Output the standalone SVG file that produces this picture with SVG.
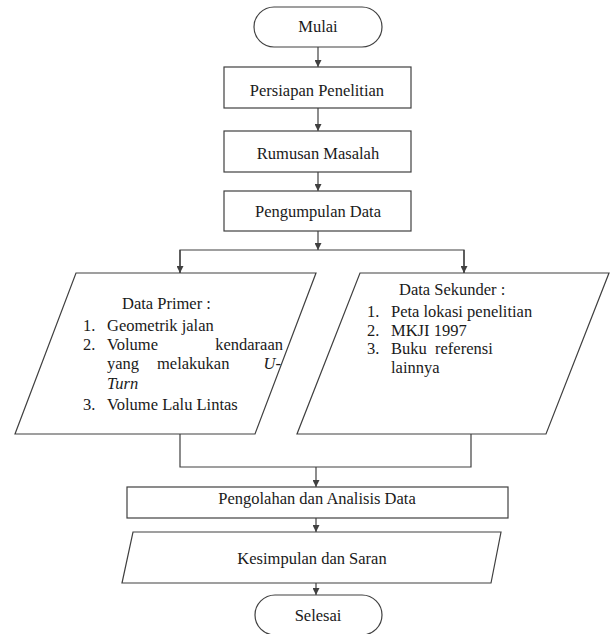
<svg xmlns="http://www.w3.org/2000/svg" width="613" height="634" viewBox="0 0 613 634">
<defs>
<marker id="arr" viewBox="0 0 8 8" refX="8" refY="4" markerWidth="7" markerHeight="7" markerUnits="userSpaceOnUse" orient="auto">
<path d="M0,0 L8,4 L0,8 z" fill="#404040"/>
</marker>
<style>
.shape{fill:#fff;stroke:#404040;stroke-width:1.2}
.t{font-family:"Liberation Serif","Times New Roman",serif;font-size:16.5px;fill:#1a1a1a}
.c{text-anchor:middle}
.e{text-anchor:end}
.i{font-style:italic}
.ln{fill:none;stroke:#404040;stroke-width:1.2}
.a{marker-end:url(#arr)}
</style>
</defs>
<rect width="613" height="634" fill="#fff"/>

<g id="connectors">
<line class="ln a" x1="318" y1="47" x2="318" y2="67"/>
<line class="ln a" x1="318" y1="108" x2="318" y2="131"/>
<line class="ln a" x1="318" y1="172" x2="318" y2="191"/>
<line class="ln a" x1="318" y1="231" x2="318" y2="250"/>
<polyline class="ln" points="180,273 180,250 464,250 464,273"/>
<line class="ln a" x1="180" y1="250" x2="180" y2="273"/>
<line class="ln a" x1="464" y1="250" x2="464" y2="273"/>
<polyline class="ln" points="180,434 180,467 471,467 471,434"/>
<line class="ln a" x1="316" y1="467" x2="316" y2="487"/>
<line class="ln a" x1="316" y1="518" x2="316" y2="532"/>
<line class="ln a" x1="316" y1="583" x2="316" y2="595"/>
</g>

<g id="mulai">
<rect class="shape" x="254" y="7" width="128" height="40" rx="20" ry="20"/>
<text class="t c" x="318" y="32">Mulai</text>
</g>

<g id="persiapan">
<rect class="shape" x="224" y="67" width="187" height="41"/>
<text class="t c" x="317" y="96">Persiapan Penelitian</text>
</g>

<g id="rumusan">
<rect class="shape" x="224" y="131" width="187" height="41"/>
<text class="t c" x="318" y="159">Rumusan Masalah</text>
</g>

<g id="pengumpulan">
<rect class="shape" x="224" y="191" width="187" height="40"/>
<text class="t c" x="318" y="217">Pengumpulan Data</text>
</g>

<g id="data-primer">
<polygon class="shape" points="76,273 316,273 255,434 15,434"/>
<text class="t" x="122" y="309">Data Primer :</text>
<text class="t" x="83" y="331">1.</text>
<text class="t" x="107" y="331">Geometrik jalan</text>
<text class="t" x="83" y="350">2.</text>
<text class="t" x="107" y="350">Volume</text>
<text class="t e" x="283" y="350">kendaraan</text>
<text class="t" x="107" y="369">yang</text>
<text class="t" x="157" y="369">melakukan</text>
<text class="t i e" x="281" y="369">U-</text>
<text class="t i" x="107" y="389">Turn</text>
<text class="t" x="83" y="410">3.</text>
<text class="t" x="107" y="410">Volume Lalu Lintas</text>
</g>

<g id="data-sekunder">
<polygon class="shape" points="360,273 609,273 546,434 297,434"/>
<text class="t" x="399" y="295">Data Sekunder :</text>
<text class="t" x="367" y="317">1.</text>
<text class="t" x="391" y="317">Peta lokasi penelitian</text>
<text class="t" x="367" y="336">2.</text>
<text class="t" x="391" y="336">MKJI 1997</text>
<text class="t" x="367" y="354">3.</text>
<text class="t" x="391" y="354">Buku</text>
<text class="t" x="435" y="354">referensi</text>
<text class="t" x="391" y="373">lainnya</text>
</g>

<g id="pengolahan">
<rect class="shape" x="127" y="487" width="381" height="31"/>
<text class="t c" x="317" y="504">Pengolahan dan Analisis Data</text>
</g>

<g id="kesimpulan">
<polygon class="shape" points="133,532 501,532 491,583 122,583"/>
<text class="t c" x="312" y="564">Kesimpulan dan Saran</text>
</g>

<g id="selesai">
<rect class="shape" x="255" y="595" width="127" height="40" rx="20" ry="20"/>
<text class="t c" x="318" y="621">Selesai</text>
</g>
</svg>
